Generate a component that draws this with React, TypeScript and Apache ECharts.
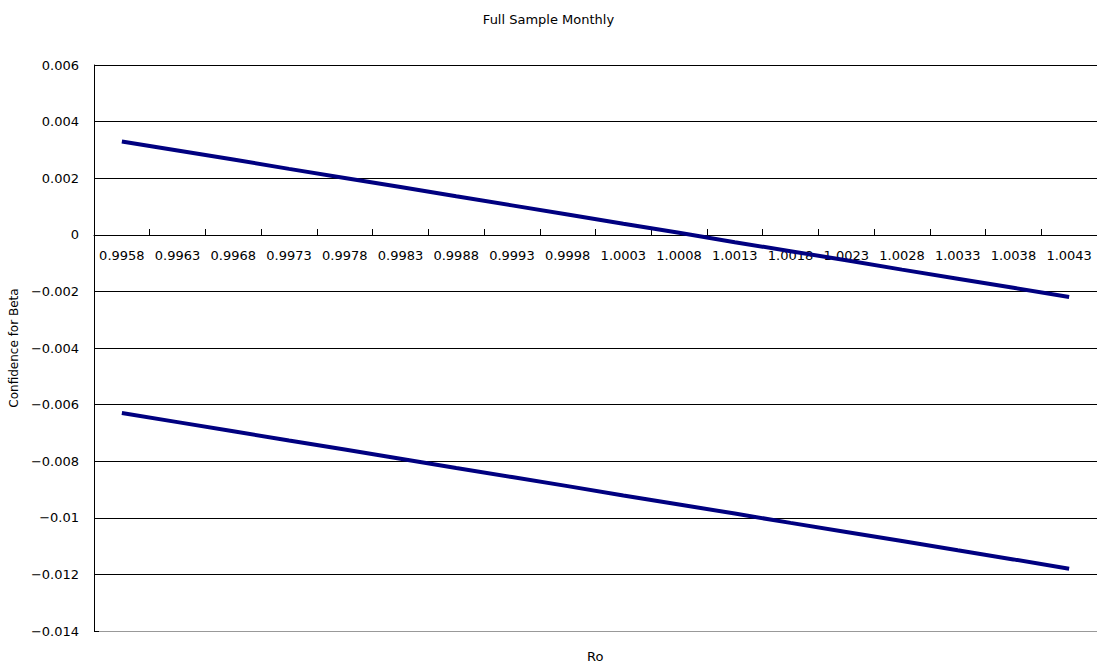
import React, { useEffect, useRef } from "react";
import * as echarts from "echarts";

const categories = [
  "0.9958", "0.9963", "0.9968", "0.9973", "0.9978", "0.9983", "0.9988", "0.9993", "0.9998",
  "1.0003", "1.0008", "1.0013", "1.0018", "1.0023", "1.0028", "1.0033", "1.0038", "1.0043",
];

const upperBound = [
  0.0033, 0.00298, 0.00266, 0.00233, 0.00201, 0.00169, 0.00136, 0.00104, 0.00072,
  0.00039, 0.00007, -0.00026, -0.00058, -0.0009, -0.00123, -0.00155, -0.00187, -0.0022,
];

const lowerBound = [
  -0.0063, -0.00662, -0.00694, -0.00727, -0.00759, -0.00791, -0.00824, -0.00856, -0.00888,
  -0.00921, -0.00953, -0.00985, -0.01018, -0.0105, -0.01082, -0.01115, -0.01147, -0.0118,
];

const FONT = "'DejaVu Sans', sans-serif";

export default function App() {
  const ref = useRef<HTMLDivElement>(null);
  useEffect(() => {
    if (!ref.current) return;
    const chart = echarts.init(ref.current, null, { renderer: "svg" });
    const gridColors = ["#999999", "#000000", "#000000", "#000000", "#000000", "#000000", "#000000", "#000000", "#000000", "#000000", "#000000"];
    chart.setOption({
      animation: false,
      backgroundColor: "#ffffff",
      title: {
        text: "Full Sample Monthly",
        left: "center",
        top: 8,
        textStyle: { fontFamily: FONT, fontSize: 13, fontWeight: "normal", color: "#000" },
      },
      grid: { left: 91, right: 0, top: 65, bottom: 38, containLabel: false },
      xAxis: {
        type: "category",
        data: categories,
        boundaryGap: true,
        offset: -396,
        axisLine: { onZero: false, lineStyle: { color: "#000", width: 1 } },
        axisTick: { show: true, inside: true, length: 6, interval: 0, alignWithLabel: false, lineStyle: { color: "#000" } },
        axisLabel: { interval: 0, margin: 14, fontFamily: FONT, fontSize: 13, color: "#000" },
        splitLine: { show: false },
      },
      yAxis: {
        type: "value",
        min: -0.014,
        max: 0.006,
        interval: 0.002,
        name: "Confidence for Beta",
        nameLocation: "middle",
        nameGap: 64,
        nameTextStyle: { fontFamily: FONT, fontSize: 12, color: "#000" },
        axisLine: { show: true, lineStyle: { color: "#000", width: 1 } },
        axisTick: { show: true, inside: true, length: 5, lineStyle: { color: "#000" } },
        axisLabel: {
          margin: 15,
          fontFamily: FONT,
          fontSize: 13,
          color: "#000",
          formatter: (v: number) => {
            if (Math.abs(v) < 1e-12) return "0";
            const s = String(parseFloat(v.toFixed(3)));
            return s.replace("-", "\u2212");
          },
        },
        splitLine: { show: true, lineStyle: { color: gridColors, width: 1 } },
      },
      graphic: [
        {
          type: "text",
          left: 587,
          top: 650,
          style: { text: "Ro", fontFamily: FONT, fontSize: 13, fill: "#000" },
        },
      ],
      series: [
        {
          name: "Upper",
          type: "line",
          data: upperBound,
          showSymbol: false,
          lineStyle: { color: "#000080", width: 4 },
          itemStyle: { color: "#000080" },
        },
        {
          name: "Lower",
          type: "line",
          data: lowerBound,
          showSymbol: false,
          lineStyle: { color: "#000080", width: 4 },
          itemStyle: { color: "#000080" },
        },
      ],
    });
    return () => chart.dispose();
  }, []);
  return (
    <div
      ref={ref}
      style={{ position: "fixed", left: 0, top: 0, width: 1097, height: 669, background: "#fff" }}
    />
  );
}
